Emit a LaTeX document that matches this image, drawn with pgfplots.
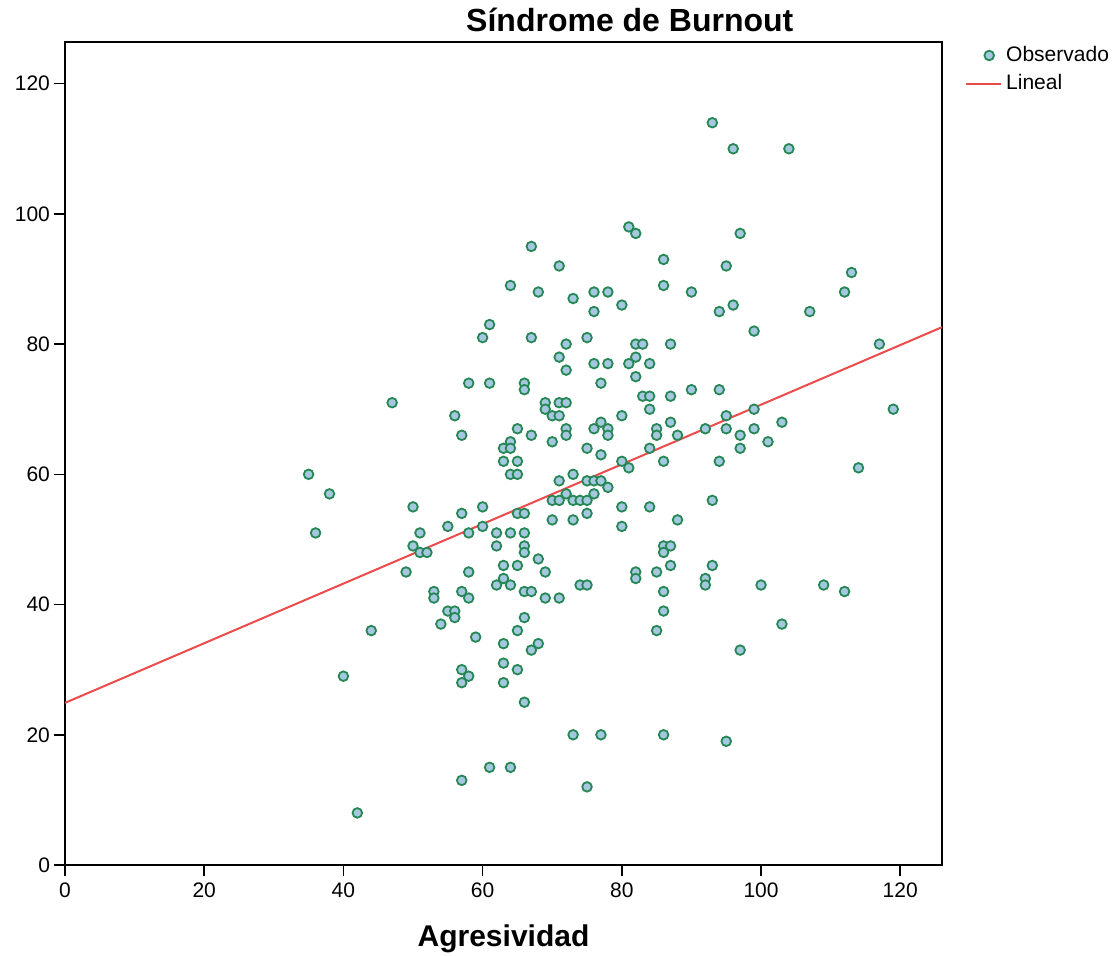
\documentclass[border=0pt]{standalone}
\usepackage{fontspec}
\setmainfont{Liberation Sans}
\usepackage{pgfplots}
\pgfplotsset{compat=1.18}
\definecolor{obsedge}{RGB}{38,135,85}
\definecolor{obsfill}{RGB}{165,200,225}
\definecolor{fitred}{RGB}{235,75,75}
\pgfplotsset{
    obslegend/.style={legend image code/.code={\path (0pt,0pt) (17.5pt,0pt);
        \draw[##1] plot coordinates {(11.5pt,0pt)};}},
    fitlegend/.style={legend image code/.code={\draw[##1] (0pt,0pt) -- (17.5pt,0pt);}},
}

\begin{document}
\begin{tikzpicture}
\begin{axis}[
    scale only axis,
    width=438.5pt, height=411.5pt,
    xmin=0, xmax=126, ymin=0, ymax=126.4,
    xtick={0,20,...,120}, ytick={0,20,...,120},
    tick align=outside, major tick length=5.5pt,
    xtick pos=bottom, ytick pos=left,
    tick style={black, line width=0.8pt},
    axis line style={black, line width=0.8pt},
    /pgf/number format/assume math mode=true,
    tick label style={font=\fontsize{10.5}{12}\selectfont},
    yticklabel style={xshift=1.5pt},
    title={\textbf{Síndrome de Burnout}},
    title style={at={(axis description cs:0.644,1)}, anchor=center, yshift=5pt,
        font=\fontsize{16}{19}\selectfont},
    xlabel={\textbf{Agresividad}},
    xlabel style={at={(axis description cs:0.5,0)}, anchor=center, yshift=-37pt,
        font=\fontsize{15}{18}\selectfont},
    legend style={at={(axis description cs:1.026,1.0)}, anchor=north west,
        draw=none, fill=none, font=\fontsize{10.5}{12}\selectfont,
        row sep=1pt, inner sep=0pt},
    legend cell align=left,
]

% observados (Agresividad, Burnout)
\addplot[only marks, mark=*, mark size=2.4pt,
    mark options={draw=obsedge, fill=obsfill, line width=0.9pt}, obslegend]
table {
x y
93 114
96 110
104 110
81 98
82 97
97 97
67 95
86 93
71 92
95 92
113 91
64 89
86 89
68 88
76 88
78 88
90 88
112 88
73 87
80 86
96 86
76 85
94 85
107 85
61 83
99 82
60 81
67 81
75 81
72 80
82 80
83 80
87 80
117 80
71 78
82 78
76 77
78 77
81 77
84 77
72 76
82 75
58 74
61 74
66 74
77 74
66 73
90 73
94 73
83 72
84 72
87 72
47 71
69 71
71 71
72 71
69 70
84 70
99 70
119 70
56 69
70 69
71 69
80 69
95 69
77 68
87 68
103 68
65 67
72 67
76 67
78 67
85 67
92 67
95 67
99 67
57 66
67 66
72 66
78 66
85 66
88 66
97 66
64 65
70 65
101 65
63 64
64 64
75 64
84 64
97 64
77 63
63 62
65 62
80 62
86 62
94 62
81 61
114 61
35 60
64 60
65 60
73 60
71 59
75 59
76 59
77 59
78 58
38 57
72 57
76 57
70 56
71 56
73 56
74 56
75 56
93 56
50 55
60 55
80 55
84 55
57 54
65 54
66 54
75 54
70 53
73 53
88 53
55 52
60 52
80 52
36 51
51 51
58 51
62 51
64 51
66 51
50 49
62 49
66 49
86 49
87 49
51 48
52 48
66 48
86 48
68 47
63 46
65 46
87 46
93 46
49 45
58 45
69 45
82 45
85 45
63 44
82 44
92 44
62 43
64 43
74 43
75 43
92 43
100 43
109 43
53 42
57 42
66 42
67 42
86 42
112 42
53 41
58 41
69 41
71 41
55 39
56 39
86 39
56 38
66 38
54 37
103 37
44 36
65 36
85 36
59 35
63 34
68 34
67 33
97 33
63 31
57 30
65 30
40 29
58 29
57 28
63 28
66 25
73 20
77 20
86 20
95 19
61 15
64 15
57 13
75 12
42 8
};
\addlegendentry{Observado}

% recta de ajuste lineal
\addplot[fitred, line width=1pt, fitlegend]
coordinates {(0,24.9) (126,82.6)};
\addlegendentry{Lineal}
\end{axis}
\pgfresetboundingbox
\path[use as bounding box] (-32.5pt,-45.5pt) rectangle (526pt,432.5pt);
\end{tikzpicture}
\end{document}
